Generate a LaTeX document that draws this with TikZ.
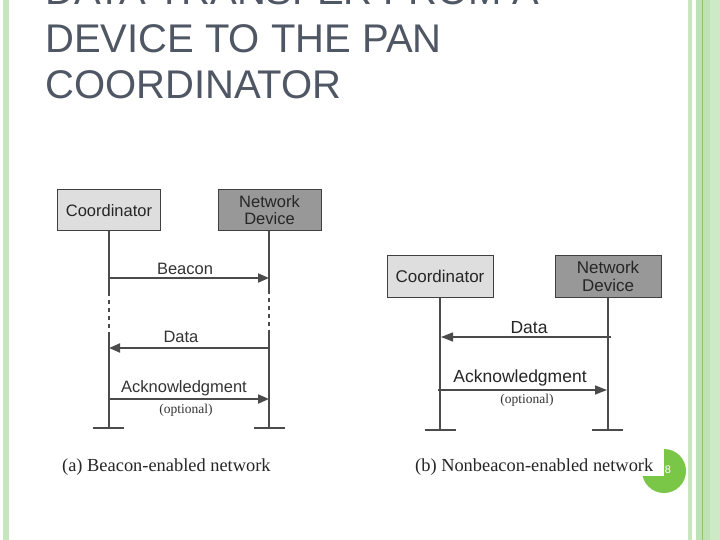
\documentclass[tikz,border=0pt]{standalone}
\usepackage{fontspec}
\setmainfont{Liberation Serif}
\newfontfamily\arial{Liberation Sans}
\usetikzlibrary{arrows.meta}
\definecolor{titlecol}{RGB}{80,87,100}
\definecolor{stripeA}{RGB}{200,230,190}
\definecolor{stripeB}{RGB}{190,226,180}
\definecolor{stripeC}{RGB}{206,233,198}
\definecolor{stripeLine}{RGB}{140,196,110}
\definecolor{pagegreen}{RGB}{122,198,70}
\definecolor{lineg}{RGB}{75,75,75}
\definecolor{boxlight}{RGB}{222,222,222}
\definecolor{boxdark}{RGB}{152,152,152}
\begin{document}
\begin{tikzpicture}[x=1pt,y=-1pt,
  titletext/.style={anchor=base west,inner sep=0pt,text=titlecol,font=\arial\fontsize{40}{47}\selectfont},
  actorA/.style={draw=black!75,line width=1pt,minimum width=103pt,minimum height=41pt,inner sep=0pt,align=center,font=\arial\fontsize{16.5}{17}\selectfont,text=black!85},
  actorB/.style={draw=black!75,line width=1pt,minimum width=106pt,minimum height=42pt,inner sep=0pt,align=center,font=\arial\fontsize{17}{18}\selectfont,text=black!85},
  lifeA/.style={draw=lineg,line width=2pt},
  lifeB/.style={draw=lineg,line width=1.3pt},
  dashA/.style={draw=lineg,line width=2pt,dash pattern=on 4pt off 4pt},
  msgA/.style={draw=lineg,line width=2pt,-{Triangle[length=11pt,width=9pt]}},
  msgB/.style={draw=lineg,line width=1.4pt,-{Triangle[length=12pt,width=9pt]}},
  lblA/.style={inner sep=0pt,font=\arial\fontsize{16.5}{17}\selectfont,text=black!80},
  lblB/.style={inner sep=0pt,font=\arial\fontsize{17.5}{18}\selectfont,text=black!85},
  optl/.style={inner sep=0pt,font=\fontsize{13.5}{14}\selectfont,text=black!80},
  capt/.style={anchor=base west,inner sep=0pt,font=\fontsize{18.4}{20}\selectfont,text=black!85}]
\clip (0,0) rectangle (720,540);
\fill[white] (0,0) rectangle (720,540);
% border stripes
\fill[stripeA] (3,0) rectangle (9,540);
\fill[stripeA] (688,0) rectangle (692,540);
\fill[stripeB] (696,0) rectangle (710,540);
\fill[stripeC] (710,0) rectangle (720,540);
\draw[stripeLine,line width=1pt] (702.5,0) -- (702.5,540);
% page number badge
\fill[pagegreen] (664,471) circle (22);
\fill[white] (600,440) rectangle (664,476);
\node[inner sep=0pt,text=white,font=\arial\fontsize{11}{12}\selectfont] (pnum) at (668,470) {8};
% title
\node[titletext] (t1) at (45,5) {DATA TRANSFER FROM A};
\node[titletext] (t2) at (45,52.3) {DEVICE TO THE PAN};
\node[titletext] (t3) at (45,99) {COORDINATOR};
% ---------- (a) beacon-enabled ----------
\node[actorA,fill=boxlight] (ca) at (109,210.5) {Coordinator};
\node[actorA,fill=boxdark] (da) at (269.5,210.5) {Network\\Device};
\coordinate (ca1) at (109,292);
\coordinate (ca2) at (109,333);
\coordinate (caE) at (109,428);
\coordinate (da1) at (269,290);
\coordinate (da2) at (269,334);
\coordinate (daE) at (269,428);
\draw[lifeA] (ca.south) -- (ca1);
\draw[dashA] (ca1) -- (ca2);
\draw[lifeA] (ca2) -- (caE);
\draw[lifeA] (da.south -| daE) -- (da1);
\draw[dashA] (da1) -- (da2);
\draw[lifeA] (da2) -- (daE);
\draw[lifeA] ([xshift=-16pt]caE) -- ([xshift=15pt]caE);
\draw[lifeA] ([xshift=-15pt]daE) -- ([xshift=16pt]daE);
\coordinate (b1) at (109,278);
\coordinate (b2) at (269,278);
\draw[msgA] (b1) -- (b2);
\node[lblA] (lbeacon) at (185,269) {Beacon};
\coordinate (d1) at (269,348);
\coordinate (d2) at (109,348);
\draw[msgA] (d1) -- (d2);
\node[lblA] (ldata) at (181,337) {Data};
\coordinate (k1) at (109,399);
\coordinate (k2) at (269,399);
\draw[msgA] (k1) -- (k2);
\node[lblA] (lack) at (184,388) {Acknowledgment};
\node[optl] (lopt) at (186,410) {(optional)};
% ---------- (b) nonbeacon-enabled ----------
\node[actorB,fill=boxlight] (cb) at (440,276) {Coordinator};
\node[actorB,fill=boxdark] (db) at (608,276) {Network\\Device};
\coordinate (cbE) at (440,430);
\coordinate (dbE) at (608,430);
\draw[lifeB] (cb.south) -- (cbE);
\draw[lifeB] (db.south) -- (dbE);
\draw[lifeB] ([xshift=-15pt]cbE) -- ([xshift=16pt]cbE);
\draw[lifeB] ([xshift=-16pt]dbE) -- ([xshift=15pt]dbE);
\coordinate (e1) at (611,337);
\coordinate (e2) at (441,337);
\draw[msgB] (e1) -- (e2);
\node[lblB] (ldata2) at (529,328) {Data};
\coordinate (f1) at (438,390);
\coordinate (f2) at (607,390);
\draw[msgB] (f1) -- (f2);
\node[lblB] (lack2) at (520,378) {Acknowledgment};
\node[optl] (lopt2) at (527,400) {(optional)};
% captions
\node[capt] (capa) at (62,471) {(a) Beacon-enabled network};
\node[capt] (capb) at (415,471) {(b) Nonbeacon-enabled network};
\end{tikzpicture}
\end{document}
